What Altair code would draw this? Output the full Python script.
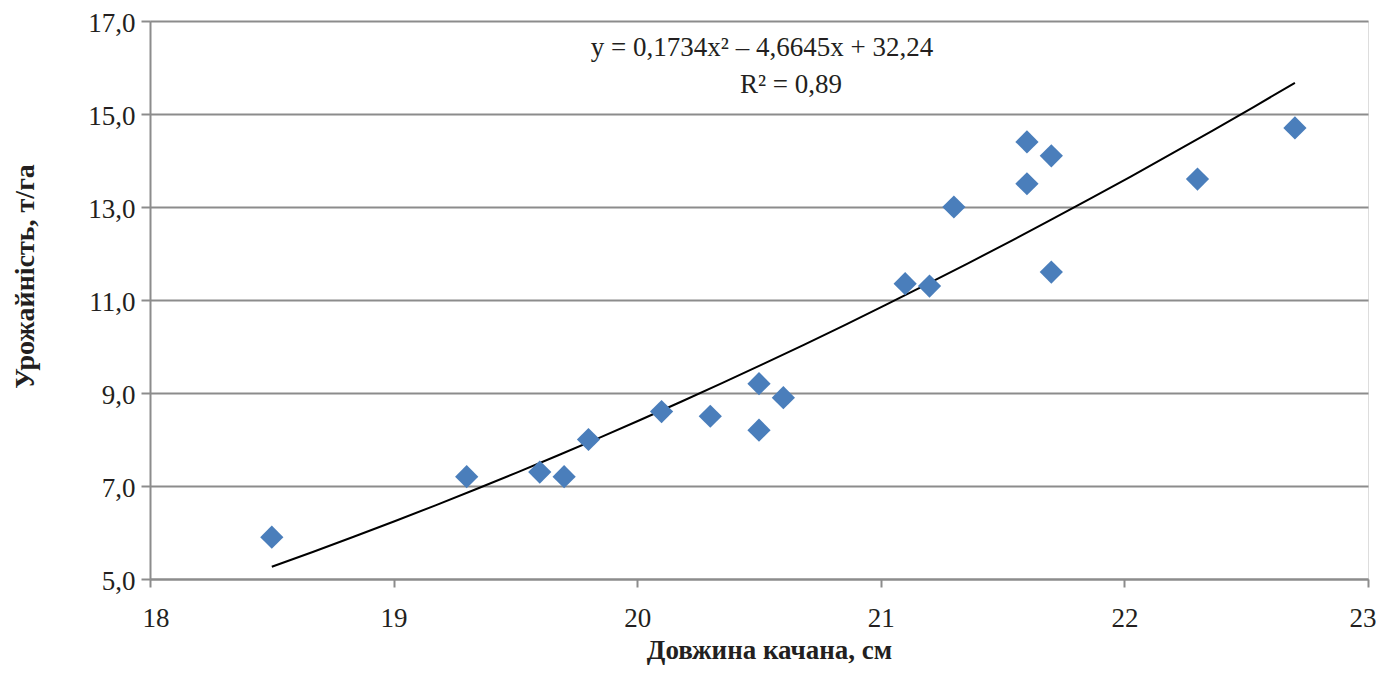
import altair as alt
import pandas as pd

length_cm = [18.5, 19.3, 19.6, 19.7, 19.8, 20.1, 20.3, 20.5, 20.5, 20.6,
             21.1, 21.2, 21.3, 21.6, 21.6, 21.7, 21.7, 22.3, 22.7]
yield_tha = [5.9, 7.2, 7.3, 7.2, 8.0, 8.6, 8.5, 9.2, 8.2, 8.9,
             11.35, 11.3, 13.0, 14.4, 13.5, 14.1, 11.6, 13.6, 14.7]
equation_text = ["y = 0,1734x\u00b2 \u2013 4,6645x + 32,24", "R\u00b2 = 0,89"]

df = pd.DataFrame({"x": length_cm, "y": yield_tha})

FONT = "Liberation Serif"
TXT = "#231F20"
xs = alt.Scale(domain=[18, 23], nice=False, zero=False)
ys = alt.Scale(domain=[5, 17], nice=False, zero=False)

base = alt.Chart(df)

points = base.mark_point(shape="diamond", filled=True, opacity=1, size=540,
                         color="#4A7EBB").encode(
    x=alt.X("x:Q", scale=xs, title="Довжина качана, см",
            axis=alt.Axis(values=[18, 19, 20, 21, 22, 23], grid=False, format="d",
                          labelFlush=True, labelFlushOffset=8,
                          labelFontSize=27, titleFontSize=27, labelFont=FONT,
                          titleFont=FONT, titleFontWeight="bold",
                          labelPadding=18, titlePadding=6, titleX=619,
                          domainColor="#8C8C8C", domainWidth=2,
                          tickColor="#8C8C8C", tickWidth=2, tickSize=8,
                          labelColor=TXT, titleColor=TXT)),
    y=alt.Y("y:Q", scale=ys, title="Урожайність, т/га",
            axis=alt.Axis(values=[5, 7, 9, 11, 13, 15, 17],
                          labelExpr="replace(format(datum.value, '.1f'), '.', ',')",
                          labelFlush=False, labelOffset=2,
                          grid=True, gridColor="#8C8C8C", gridWidth=2,
                          labelFontSize=27, titleFontSize=28, labelFont=FONT,
                          titleFont=FONT, titleFontWeight="bold",
                          labelPadding=6, titlePadding=48, titleY=255,
                          domainColor="#8C8C8C", domainWidth=2,
                          tickColor="#8C8C8C", tickWidth=2, tickSize=9,
                          labelColor=TXT, titleColor=TXT)),
)

trend = base.transform_regression(
    "x", "y", method="poly", order=2, extent=[18.5, 22.7]
).mark_line(color="black", strokeWidth=2).encode(
    x=alt.X("x:Q", scale=xs),
    y=alt.Y("y:Q", scale=ys),
)

eq1 = alt.Chart(pd.DataFrame({"t": [equation_text[0]]})).mark_text(
    font=FONT, fontSize=27, color=TXT, align="center", baseline="middle"
).encode(text="t:N", x=alt.value(612), y=alt.value(27))

eq2 = alt.Chart(pd.DataFrame({"t": [equation_text[1]]})).mark_text(
    font=FONT, fontSize=27, color=TXT, align="center", baseline="middle"
).encode(text="t:N", x=alt.value(641), y=alt.value(64))

chart = alt.layer(trend, points, eq1, eq2).properties(
    width=1218, height=558,
    autosize=alt.AutoSizeParams(type="none"),
    padding={"left": 142, "top": 13, "right": 8, "bottom": 87},
).configure_view(stroke=None).configure(background="white")

chart.save("out.html", embed_options={"renderer": "svg", "actions": False})
